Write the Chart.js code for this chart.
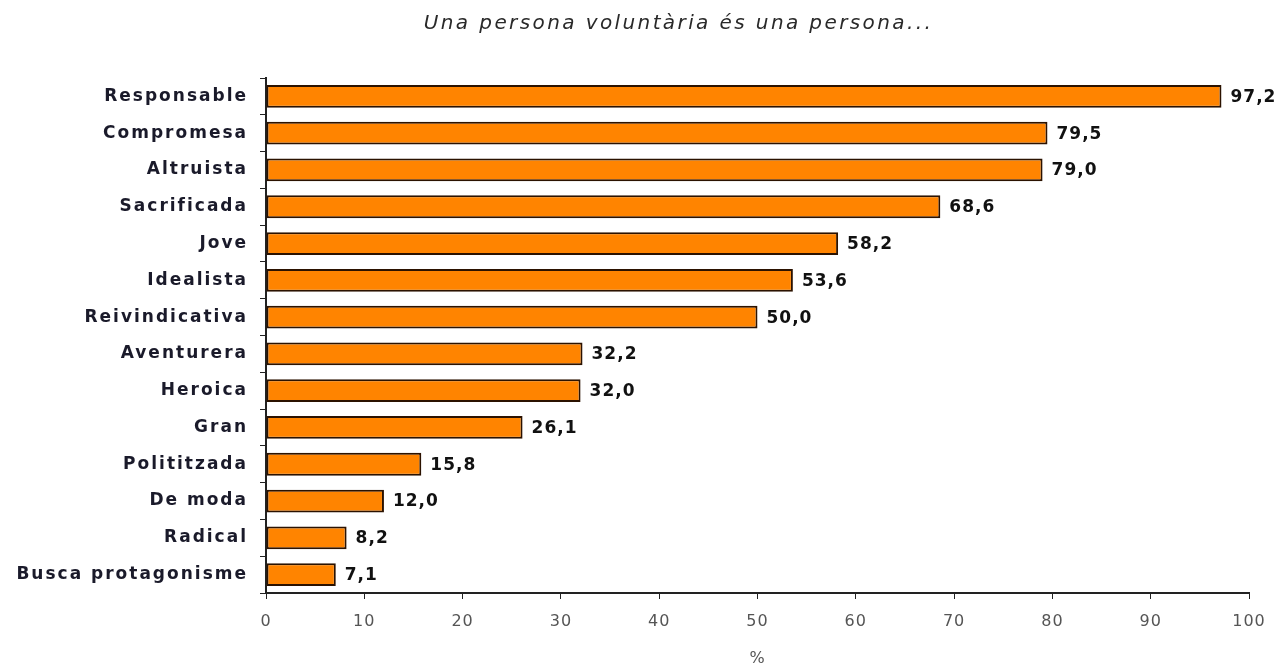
<!DOCTYPE html>
<html>
<head>
<meta charset="utf-8">
<script src="https://cdn.jsdelivr.net/npm/chart.js@4.4.1/dist/chart.umd.min.js"></script>
<style>
	html, body { margin: 0; padding: 0; background: #fff; }
	#wrap { width: 1280px; height: 665px; }
</style>
</head>
<body>
<div id="wrap"><canvas id="myChart"></canvas></div>
<script>
const categories = ['Responsable', 'Compromesa', 'Altruista', 'Sacrificada', 'Jove', 'Idealista',
	'Reivindicativa', 'Aventurera', 'Heroica', 'Gran', 'Polititzada', 'De moda', 'Radical', 'Busca protagonisme'];
const values = [97.2, 79.5, 79.0, 68.6, 58.2, 53.6, 50.0, 32.2, 32.0, 26.1, 15.8, 12.0, 8.2, 7.1];
const xTicks = [0, 10, 20, 30, 40, 50, 60, 70, 80, 90, 100];

const ctx = document.getElementById('myChart');

// run a draw method with some letter spacing (the original text is wide)
function spaced(obj, method, spacing, dx) {
	if (!obj || obj['_spaced_' + method]) return;
	var orig = obj[method];
	obj[method] = function () {
		var c = this.ctx;
		var old = c.letterSpacing;
		c.save();
		if (dx) c.translate(dx, 0);
		c.letterSpacing = spacing;
		var r = orig.apply(this, arguments);
		c.restore();
		c.letterSpacing = old || '0px';
		return r;
	};
	obj['_spaced_' + method] = true;
}

const wideText = {
	id: 'wideText',
	beforeDraw(chart) {
		spaced(chart.scales.y, 'drawLabels', '2px');
		spaced(chart.scales.x, 'drawLabels', '1px');
		spaced(chart.scales.x, 'drawTitle', '1px');
		spaced(chart.titleBlock, 'draw', '2.4px', 54);
	}
};

// value labels at the end of each bar
const valueLabels = {
	id: 'valueLabels',
	afterDatasetsDraw(chart) {
		var c = chart.ctx;
		var meta = chart.getDatasetMeta(0);
		c.save();
		c.font = 'bold 17px "DejaVu Sans"';
		c.letterSpacing = '1px';
		c.fillStyle = '#111';
		c.textAlign = 'left';
		c.textBaseline = 'middle';
		meta.data.forEach((bar, i) => {
			c.fillText(values[i].toFixed(1).replace('.', ','), bar.x + 9, bar.y + 1);
		});
		c.restore();
	}
};

new Chart(ctx, {
	type: 'bar',
	data: {
		labels: categories,
		datasets: [{
			data: values,
			backgroundColor: '#ff8400',
			borderColor: '#2b1200',
			borderWidth: 2,
			borderSkipped: false,
			categoryPercentage: 1,
			barPercentage: 0.62
		}]
	},
	options: {
		indexAxis: 'y',
		responsive: true,
		maintainAspectRatio: false,
		animation: false,
		layout: { padding: { left: 0, right: 31, top: 0, bottom: 0 } },
		plugins: {
			legend: { display: false },
			tooltip: { enabled: false },
			title: {
				display: true,
				text: 'Una persona voluntària és una persona...',
				color: '#2a2a2a',
				font: { family: '"DejaVu Sans"', size: 20, style: 'italic', weight: 'normal' },
				padding: { top: 12, bottom: 42 }
			}
		},
		scales: {
			x: {
				min: 0,
				max: 100,
				afterBuildTicks: (scale) => { scale.ticks = xTicks.map(v => ({ value: v })); },
				afterFit: (scale) => { scale.height = 72; },
				grid: { drawOnChartArea: false, color: '#222', tickLength: 6 },
				border: { color: '#222', width: 2 },
				ticks: { color: '#555', font: { family: '"DejaVu Sans"', size: 16 }, padding: 13 },
				title: {
					display: true,
					text: '%',
					color: '#555',
					font: { family: '"DejaVu Sans"', size: 16 },
					padding: { top: 0, bottom: -3 }
				}
			},
			y: {
				afterFit: (scale) => { scale.width = 266; },
				grid: { drawOnChartArea: false, offset: true, color: '#222', tickLength: 6 },
				border: { color: '#222', width: 2 },
				ticks: { color: '#1a1a2a', font: { family: '"DejaVu Sans"', size: 17, weight: 'bold' }, padding: 12 }
			}
		}
	},
	plugins: [wideText, valueLabels]
});
</script>
</body>
</html>
